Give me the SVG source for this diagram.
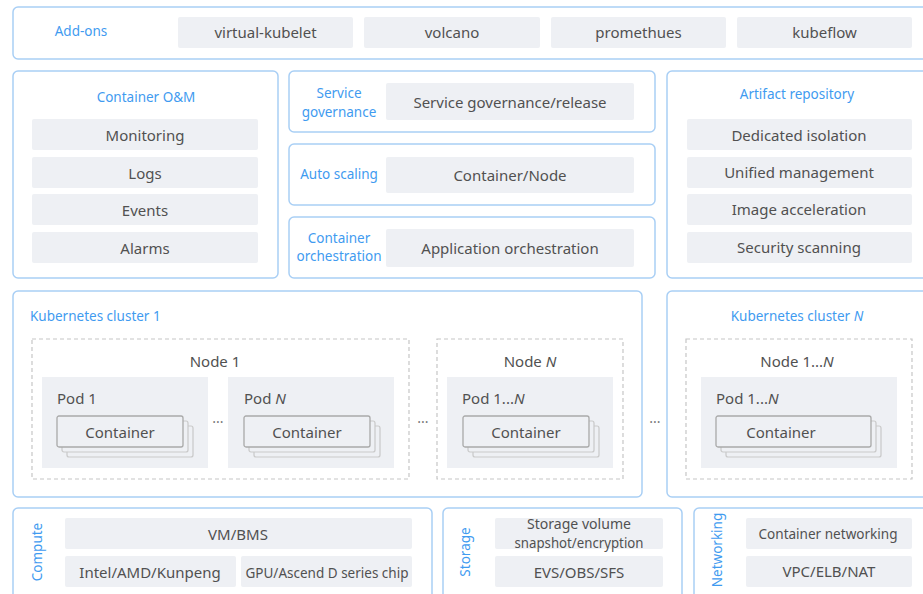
<svg xmlns="http://www.w3.org/2000/svg" width="923" height="594" viewBox="0 0 923 594">
  <style>
    .panel { fill: #ffffff; stroke: #a9cff5; stroke-width: 1.5; }
    .item { fill: #eef0f4; }
    .txt { font-family: "Noto Sans", "Liberation Sans", sans-serif; font-size: 15px; fill: #515151; text-anchor: middle; dominant-baseline: central; }
    .ttl { font-family: "Noto Sans", "Liberation Sans", sans-serif; font-size: 13.5px; fill: #3f9bf0; text-anchor: middle; dominant-baseline: central; }
    .ttl-l { text-anchor: start; }
    .txt-l { text-anchor: start; }
    .node { fill: none; stroke: #c6c6c6; stroke-width: 1.2; stroke-dasharray: 4 3; }
    .pod { fill: #eef0f4; }
    .ctr { fill: #eef0f4; stroke: #a9a9a9; stroke-width: 1.3; }
    .ctr-back { fill: #eef0f4; stroke: #c9c9c9; stroke-width: 1.2; }
    .dots { font-family: "Noto Sans", "Liberation Sans", sans-serif; font-size: 14px; fill: #777777; text-anchor: middle; dominant-baseline: central; }
  </style>
  <defs>
    <!-- stacked container card, origin at top-left of the front card -->
    <g id="ctrStack">
      <rect class="ctr-back" x="10" y="10" width="126" height="31" rx="2"/>
      <rect class="ctr-back" x="5" y="5" width="126" height="31" rx="2"/>
      <rect class="ctr" x="0" y="0" width="126" height="31" rx="2"/>
    </g>
  </defs>

  <rect x="0" y="0" width="923" height="594" fill="#ffffff"/>

  <!-- Add-ons -->
  <g id="addons">
    <rect class="panel" x="13" y="7" width="920" height="52" rx="5"/>
    <text class="ttl" x="81" y="31">Add-ons</text>
    <rect class="item" x="178" y="17" width="175" height="31" rx="2"/>
    <text class="txt" x="265.5" y="32">virtual-kubelet</text>
    <rect class="item" x="364" y="17" width="176" height="31" rx="2"/>
    <text class="txt" x="452" y="32">volcano</text>
    <rect class="item" x="551" y="17" width="175" height="31" rx="2"/>
    <text class="txt" x="638.5" y="32">promethues</text>
    <rect class="item" x="737" y="17" width="175" height="31" rx="2"/>
    <text class="txt" x="824.5" y="32">kubeflow</text>
  </g>

  <!-- Container O&M -->
  <g id="container-om">
    <rect class="panel" x="13" y="71" width="265" height="207" rx="5"/>
    <text class="ttl" x="146" y="97">Container O&amp;M</text>
    <rect class="item" x="32" y="119" width="226" height="31" rx="2"/>
    <text class="txt" x="145" y="135">Monitoring</text>
    <rect class="item" x="32" y="157" width="226" height="31" rx="2"/>
    <text class="txt" x="145" y="173">Logs</text>
    <rect class="item" x="32" y="194" width="226" height="31" rx="2"/>
    <text class="txt" x="145" y="210">Events</text>
    <rect class="item" x="32" y="232" width="226" height="31" rx="2"/>
    <text class="txt" x="145" y="248">Alarms</text>
  </g>

  <!-- Service governance -->
  <g id="service-governance">
    <rect class="panel" x="289" y="71" width="366" height="61" rx="5"/>
    <text class="ttl" x="339" y="93">Service</text>
    <text class="ttl" x="339" y="112">governance</text>
    <rect class="item" x="386" y="83" width="248" height="37" rx="2"/>
    <text class="txt" x="510" y="102">Service governance/release</text>
  </g>

  <!-- Auto scaling -->
  <g id="auto-scaling">
    <rect class="panel" x="289" y="144" width="366" height="61" rx="5"/>
    <text class="ttl" x="339" y="174">Auto scaling</text>
    <rect class="item" x="386" y="157" width="248" height="36" rx="2"/>
    <text class="txt" x="510" y="175">Container/Node</text>
  </g>

  <!-- Container orchestration -->
  <g id="container-orchestration">
    <rect class="panel" x="289" y="217" width="366" height="61" rx="5"/>
    <text class="ttl" x="339" y="238">Container</text>
    <text class="ttl" x="339" y="256">orchestration</text>
    <rect class="item" x="386" y="229" width="248" height="38" rx="2"/>
    <text class="txt" x="510" y="248">Application orchestration</text>
  </g>

  <!-- Artifact repository -->
  <g id="artifact-repository">
    <rect class="panel" x="667" y="71" width="266" height="207" rx="5"/>
    <text class="ttl" x="797" y="94">Artifact repository</text>
    <rect class="item" x="687" y="119" width="225" height="31" rx="2"/>
    <text class="txt" x="799" y="135">Dedicated isolation</text>
    <rect class="item" x="687" y="157" width="225" height="31" rx="2"/>
    <text class="txt" x="799" y="172">Unified management</text>
    <rect class="item" x="687" y="194" width="225" height="31" rx="2"/>
    <text class="txt" x="799" y="209">Image acceleration</text>
    <rect class="item" x="687" y="232" width="225" height="31" rx="2"/>
    <text class="txt" x="799" y="247">Security scanning</text>
  </g>

  <!-- Kubernetes cluster 1 -->
  <g id="cluster-1">
    <rect class="panel" x="13" y="291" width="629" height="206" rx="5"/>
    <text class="ttl ttl-l" x="30" y="316">Kubernetes cluster 1</text>

    <g id="node-1">
      <rect class="node" x="32" y="339" width="377" height="140"/>
      <text class="txt" x="215" y="361">Node 1</text>
      <g id="pod-1">
        <rect class="pod" x="42" y="377" width="166" height="91"/>
        <text class="txt txt-l" x="57" y="398">Pod 1</text>
        <use href="#ctrStack" x="57" y="416"/>
        <text class="txt" x="120" y="432">Container</text>
      </g>
      <text class="dots" x="218" y="421">···</text>
      <g id="pod-n">
        <rect class="pod" x="228" y="377" width="166" height="91"/>
        <text class="txt txt-l" x="244" y="398">Pod <tspan font-style="italic">N</tspan></text>
        <use href="#ctrStack" x="244" y="416"/>
        <text class="txt" x="307" y="432">Container</text>
      </g>
    </g>

    <text class="dots" x="423" y="421">···</text>

    <g id="node-n">
      <rect class="node" x="437" y="339" width="186" height="140"/>
      <text class="txt" x="530" y="361">Node <tspan font-style="italic">N</tspan></text>
      <rect class="pod" x="447" y="377" width="166" height="91"/>
      <text class="txt txt-l" x="462" y="398">Pod 1...<tspan font-style="italic">N</tspan></text>
      <use href="#ctrStack" x="463" y="416"/>
      <text class="txt" x="526" y="432">Container</text>
    </g>
  </g>

  <text class="dots" x="655" y="421">···</text>

  <!-- Kubernetes cluster N -->
  <g id="cluster-n">
    <rect class="panel" x="667" y="291" width="266" height="206" rx="5"/>
    <text class="ttl" x="797" y="316">Kubernetes cluster <tspan font-style="italic">N</tspan></text>
    <rect class="node" x="686" y="339" width="226" height="140"/>
    <text class="txt" x="797" y="361">Node 1...<tspan font-style="italic">N</tspan></text>
    <rect class="pod" x="701" y="377" width="196" height="91"/>
    <text class="txt txt-l" x="716" y="398">Pod 1...<tspan font-style="italic">N</tspan></text>
    <g transform="translate(716 416)">
      <rect class="ctr-back" x="10" y="10" width="155" height="31" rx="2"/>
      <rect class="ctr-back" x="5" y="5" width="155" height="31" rx="2"/>
      <rect class="ctr" x="0" y="0" width="155" height="31" rx="2"/>
    </g>
    <text class="txt" x="781" y="432">Container</text>
  </g>

  <!-- Compute -->
  <g id="compute">
    <rect class="panel" x="13" y="508" width="419" height="100" rx="5"/>
    <text class="ttl" transform="translate(37 552) rotate(-90)">Compute</text>
    <rect class="item" x="65" y="518" width="347" height="31" rx="2"/>
    <text class="txt" x="238" y="534">VM/BMS</text>
    <rect class="item" x="65" y="556" width="171" height="31" rx="2"/>
    <text class="txt" x="150" y="572">Intel/AMD/Kunpeng</text>
    <rect class="item" x="241" y="556" width="171" height="31" rx="2"/>
    <text class="txt" x="327" y="572" font-size="14.5" textLength="163" lengthAdjust="spacingAndGlyphs">GPU/Ascend D series chip</text>
  </g>

  <!-- Storage -->
  <g id="storage">
    <rect class="panel" x="443" y="508" width="239" height="100" rx="5"/>
    <text class="ttl" transform="translate(465 552) rotate(-90)">Storage</text>
    <rect class="item" x="495" y="518" width="168" height="31" rx="2"/>
    <text class="txt" x="579" y="523" font-size="14" textLength="104" lengthAdjust="spacingAndGlyphs">Storage volume</text>
    <text class="txt" x="579" y="542" font-size="14" textLength="129" lengthAdjust="spacingAndGlyphs">snapshot/encryption</text>
    <rect class="item" x="495" y="556" width="168" height="31" rx="2"/>
    <text class="txt" x="579" y="572">EVS/OBS/SFS</text>
  </g>

  <!-- Networking -->
  <g id="networking">
    <rect class="panel" x="694" y="508" width="239" height="100" rx="5"/>
    <text class="ttl" transform="translate(717 550) rotate(-90)">Networking</text>
    <rect class="item" x="746" y="518" width="166" height="31" rx="2"/>
    <text class="txt" x="828" y="533" font-size="14.5" textLength="139" lengthAdjust="spacingAndGlyphs">Container networking</text>
    <rect class="item" x="746" y="556" width="166" height="31" rx="2"/>
    <text class="txt" x="829" y="571">VPC/ELB/NAT</text>
  </g>
</svg>
